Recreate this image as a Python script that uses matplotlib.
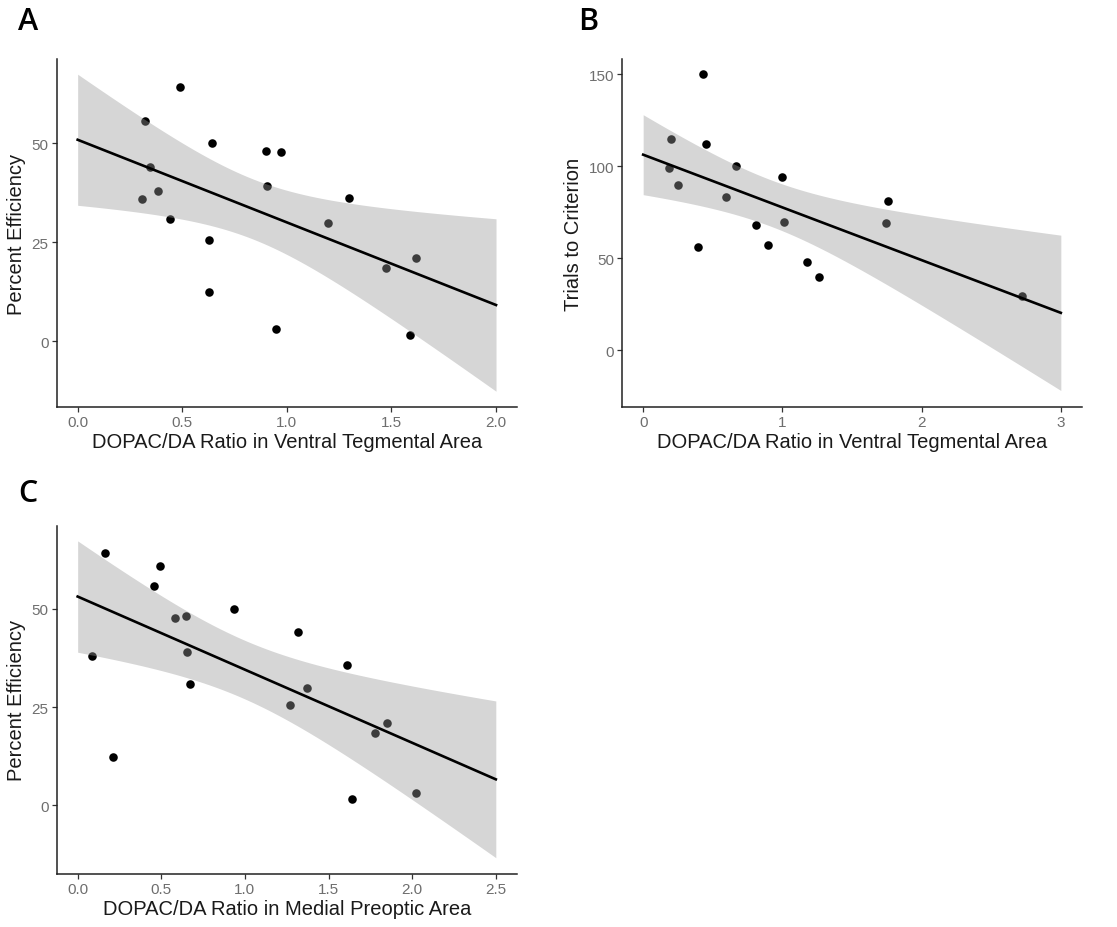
import matplotlib
matplotlib.use("Agg")
import matplotlib.pyplot as plt
import numpy as np

# panel A: DOPAC/DA ratio in VTA vs percent efficiency
vta_ratio_a = [0.489, 0.320, 0.642, 0.900, 0.972, 0.346, 0.905, 0.382, 0.306,
               1.297, 0.443, 1.198, 0.626, 1.618, 1.474, 0.626, 0.948, 1.587]
efficiency_a = [64.2, 55.7, 50.0, 48.1, 47.7, 43.9, 39.2, 37.9, 35.8,
                36.1, 30.8, 29.8, 25.5, 20.9, 18.5, 12.4, 2.95, 1.5]

# panel B: DOPAC/DA ratio in VTA vs trials to criterion
vta_ratio_b = [0.433, 0.201, 0.450, 0.189, 0.668, 0.251, 0.996, 0.596, 1.762,
               1.745, 1.010, 0.814, 0.393, 0.898, 1.175, 1.266, 2.720]
trials_b = [150, 114.9, 112.0, 98.9, 100, 89.9, 94.0, 83.0, 81.0,
            69.0, 69.9, 67.9, 55.8, 56.9, 48.0, 39.9, 29.2]

# panel C: DOPAC/DA ratio in MPOA vs percent efficiency
mpoa_ratio_c = [0.165, 0.490, 0.455, 0.933, 0.584, 0.646, 1.320, 0.654, 0.086,
                1.609, 0.670, 1.370, 1.270, 1.850, 1.776, 0.211, 2.020, 1.639]
efficiency_c = [64.2, 61.0, 55.8, 50.0, 47.8, 48.2, 44.1, 39.1, 37.9,
                35.8, 30.8, 29.8, 25.6, 20.9, 18.5, 12.4, 3.06, 1.53]

# two-sided 95% t quantiles by residual df
T975 = {15: 2.131, 16: 2.120}

TICK_GREY = "#6e6e6e"


def lm_band(x, y, xs):
    x = np.asarray(x, float)
    y = np.asarray(y, float)
    n = len(x)
    b, a = np.polyfit(x, y, 1)
    resid = y - (a + b * x)
    s = np.sqrt(np.sum(resid ** 2) / (n - 2))
    sxx = np.sum((x - x.mean()) ** 2)
    se = s * np.sqrt(1.0 / n + (xs - x.mean()) ** 2 / sxx)
    fit = a + b * xs
    t = T975[n - 2]
    return fit, fit - t * se, fit + t * se


def panel(ax, x, y, xmax, xlim, ylim, xticks, yticks, xfmt, xlabel, ylabel):
    ax.scatter(x, y, s=38, color="black", zorder=2, linewidths=0)
    xs = np.linspace(0, xmax, 80)
    fit, lo, hi = lm_band(x, y, xs)
    ax.fill_between(xs, lo, hi, color="#999999", alpha=0.4, linewidth=0, zorder=3)
    ax.plot(xs, fit, color="black", lw=1.9, zorder=4)
    ax.set_xlim(*xlim)
    ax.set_ylim(*ylim)
    ax.set_xticks(xticks)
    ax.set_xticklabels([xfmt.format(v) for v in xticks])
    ax.set_yticks(yticks)
    for side in ("top", "right"):
        ax.spines[side].set_visible(False)
    for side in ("left", "bottom"):
        ax.spines[side].set_linewidth(1.1)
        ax.spines[side].set_color("#222222")
    ax.tick_params(length=3.5, width=0.9, color="#333333", labelcolor=TICK_GREY,
                   labelsize=11, pad=2.5)
    ax.set_xlabel(xlabel, fontsize=14.5, color="#1a1a1a", labelpad=2)
    ax.set_ylabel(ylabel, fontsize=14.5, color="#1a1a1a", labelpad=4)


plt.rcParams["font.family"] = ["Liberation Sans", "DejaVu Sans"]
fig = plt.figure(figsize=(11.17, 9.28), dpi=100)

ax_a = fig.add_axes([0.0508, 0.5603, 0.4120, 0.3750])
ax_b = fig.add_axes([0.5571, 0.5603, 0.4113, 0.3750])
ax_c = fig.add_axes([0.0508, 0.0571, 0.4118, 0.3753])

panel(ax_a, vta_ratio_a, efficiency_a, 2.0, (-0.1, 2.1), (-16.7, 71.3),
      [0.0, 0.5, 1.0, 1.5, 2.0], [0, 25, 50], "{:.1f}",
      "DOPAC/DA Ratio in Ventral Tegmental Area", "Percent Efficiency")
panel(ax_b, vta_ratio_b, trials_b, 3.0, (-0.15, 3.15), (-31.0, 158.3),
      [0, 1, 2, 3], [0, 50, 100, 150], "{:d}",
      "DOPAC/DA Ratio in Ventral Tegmental Area", "Trials to Criterion")
panel(ax_c, mpoa_ratio_c, efficiency_c, 2.5, (-0.125, 2.625), (-17.5, 71.2),
      [0.0, 0.5, 1.0, 1.5, 2.0, 2.5], [0, 25, 50], "{:.1f}",
      "DOPAC/DA Ratio in Medial Preoptic Area", "Percent Efficiency")

for label, (px, py) in zip("ABC", [(28, 22), (588, 22), (28, 494)]):
    fig.text(px / 1117, 1 - py / 928, label, fontsize=22, family="Open Sans",
             fontweight="semibold", ha="center", va="center", color="black")

fig.savefig("out.png", dpi=100)
